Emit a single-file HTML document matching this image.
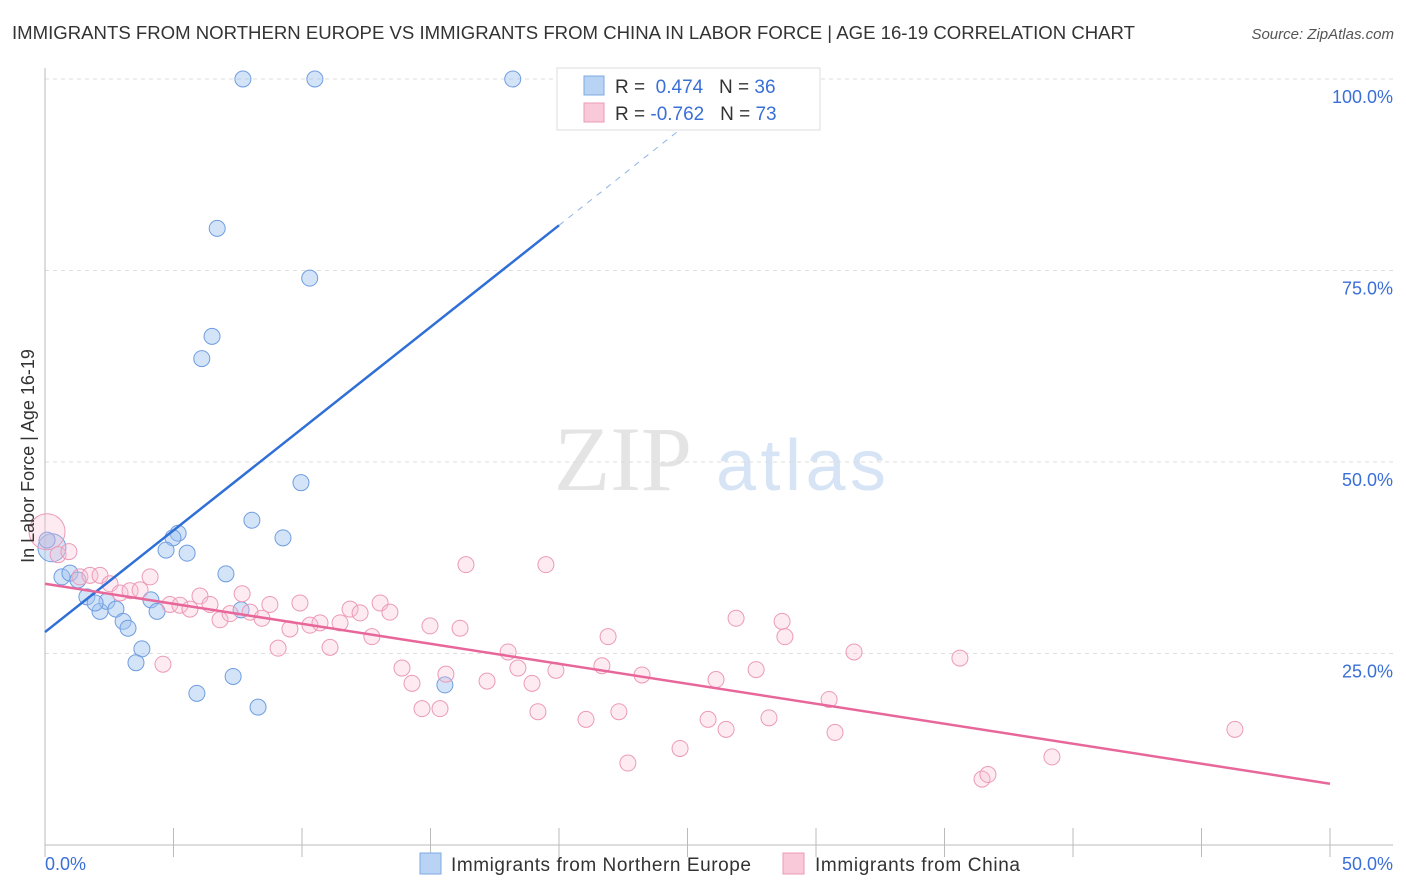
<!DOCTYPE html>
<html><head><meta charset="utf-8"><style>
body{margin:0;background:#fff;font-family:"Liberation Sans",sans-serif;}
svg{display:block}
</style></head><body>
<svg id="chart" width="1406" height="892">
<text x="12" y="39" font-size="18" fill="#333" textLength="1123" lengthAdjust="spacingAndGlyphs">IMMIGRANTS FROM NORTHERN EUROPE VS IMMIGRANTS FROM CHINA IN LABOR FORCE | AGE 16-19 CORRELATION CHART</text>
<text x="1394" y="39" font-size="15" fill="#555" font-style="italic" text-anchor="end">Source: ZipAtlas.com</text>
<text x="692" y="490" font-size="92" fill="#e4e4e4" text-anchor="end" font-family="Liberation Serif,serif">ZIP</text>
<text x="716" y="490" font-size="72" fill="#d6e4f5" textLength="170">atlas</text>
<g id="grid"></g><g id="axes"></g><g id="marks"></g>
<text transform="translate(34,456) rotate(-90)" font-size="18" fill="#333" text-anchor="middle">In Labor Force | Age 16-19</text>
<text x="45" y="870" font-size="18" fill="#3a6fd8">0.0%</text>
<text x="1393" y="870" font-size="18" fill="#3a6fd8" text-anchor="end">50.0%</text>
<g>
<rect x="557" y="68" width="263" height="62" fill="#fff" stroke="#ddd"/>
<rect x="584" y="76" width="20" height="19" fill="#b9d3f5" stroke="#7fa8e0"/>
<rect x="584" y="103" width="20" height="19" fill="#f9c9d9" stroke="#eb9ab6"/>
<text x="615" y="93" font-size="19" fill="#333">R = <tspan fill="#3a6fd8">&#160;0.474</tspan>&#160;&#160;&#160;N = <tspan fill="#3a6fd8">36</tspan></text>
<text x="615" y="120" font-size="19" fill="#333">R = <tspan fill="#3a6fd8">-0.762</tspan>&#160;&#160;&#160;N = <tspan fill="#3a6fd8">73</tspan></text>
</g>
<g>
<rect x="420" y="853" width="21" height="21" fill="#b9d3f5" stroke="#7fa8e0"/>
<text x="451" y="871" font-size="19" fill="#333" textLength="300">Immigrants from Northern Europe</text>
<rect x="783" y="853" width="21" height="21" fill="#f9c9d9" stroke="#eb9ab6"/>
<text x="815" y="871" font-size="19" fill="#333" textLength="205">Immigrants from China</text>
</g>
</svg>
<script>
const blueX=[7.7,10.5,18.2,6.7,10.3,6.5,6.1,9.96,8.05,9.26,5.18,4.98,4.71,5.53,0.27,0.08,0.66,0.97,1.28,1.63,2.14,2.41,2.76,3.04,3.23,4.12,4.36,3.77,3.54,7.04,7.63,7.32,5.91,8.29,15.56,1.95];
const blueY=[100,100,100,80.5,74,66.4,63.5,47.3,42.4,40.1,40.7,40.1,38.5,38.1,38.8,39.8,35,35.5,34.6,32.4,30.5,31.8,30.8,29.2,28.3,32,30.5,25.6,23.8,35.4,30.7,22,19.8,18,20.9,31.6];
const bigBlue=[14,14];
const pinkX=[0.08,0.51,0.93,1.36,1.75,2.14,2.53,2.92,3.31,3.70,4.09,4.59,4.86,5.25,5.64,6.03,6.42,6.81,7.2,7.67,7.98,8.44,8.75,9.07,9.53,9.92,10.31,10.7,11.09,11.48,11.87,12.26,12.72,13.04,13.42,13.89,14.28,14.67,14.98,15.37,15.6,16.15,16.38,17.2,18.02,18.4,18.95,19.18,19.49,19.88,21.05,21.67,21.91,22.33,22.68,23.23,24.71,25.8,26.11,26.5,26.89,27.67,28.17,28.68,28.79,30.51,30.74,31.48,35.6,36.46,36.69,39.18,46.3];
const pinkY=[40.9,37.9,38.3,35,35.2,35.2,34.1,32.9,33.2,33.3,35,23.6,31.4,31.3,30.8,32.5,31.4,29.4,30.2,32.8,30.4,29.6,31.4,25.7,28.2,31.6,28.7,29,25.8,29,30.8,30.3,27.2,31.6,30.4,23.1,21.1,17.8,28.6,17.8,22.3,28.3,36.6,21.4,25.2,23.1,21.1,17.4,36.6,22.8,16.4,23.4,27.2,17.4,10.7,22.2,12.6,16.4,21.6,15.1,29.6,22.9,16.6,29.2,27.2,19,14.7,25.2,24.4,8.6,9.2,11.5,15.1];
const bigPink=[18,14];
const blueLine=[27.8,80.9];
const pinkLine=[34.1,8.0];
const yTicks=[25,50,75,100];
const yTickLabels=["25.0%","50.0%","75.0%","100.0%"];
const NS='http://www.w3.org/2000/svg';
const X=v=>45+v*25.7, Y=v=>845-v*7.66;
function mk(t,a,p){const e=document.createElementNS(NS,t);for(const k in a)e.setAttribute(k,a[k]);document.getElementById(p).appendChild(e);return e;}
yTicks.forEach((t,i)=>{
const g=mk('line',{x1:45,x2:1393,y1:Y(t),y2:Y(t),stroke:'#ddd','stroke-dasharray':'4,4'},'grid');


const l=mk('text',{x:1393,y:Y(t)+24,'font-size':18,fill:'#3a6fd8','text-anchor':'end'},'axes');
l.textContent=yTickLabels[i];


});
const ax=mk('line',{x1:45,x2:45,y1:68,y2:845,stroke:'#bbb'},'axes');


const bx=mk('line',{x1:45,x2:1393,y1:845,y2:845,stroke:'#bbb'},'axes');


for(let i=0;i<=10;i++){const t=mk('line',{x1:X(i*5),x2:X(i*5),y1:828,y2:857,stroke:'#bbb'},'axes');

}
blueX.forEach((x,i)=>{
const c=mk('circle',{cx:X(x),cy:Y(blueY[i]),r:(i===14?bigBlue[0]:8),fill:'rgba(160,196,240,0.45)',stroke:'#6f9de0','stroke-width':1},'marks');

});
pinkX.forEach((x,i)=>{
const c=mk('circle',{cx:X(x),cy:Y(pinkY[i]),r:(i===0?bigPink[0]:8),fill:'rgba(248,190,210,0.3)',stroke:'#ec9ab8','stroke-width':1},'marks');

});
const slope=(blueLine[1]-blueLine[0])/20;
const bl=mk('line',{x1:X(0),y1:Y(blueLine[0]),x2:X(20),y2:Y(blueLine[1]),stroke:'#2f6fd6','stroke-width':2.5},'marks');


const bd=mk('line',{x1:X(20),y1:Y(blueLine[1]),x2:X(20+(100-blueLine[1])/slope),y2:Y(100),stroke:'#8fb3e6','stroke-width':1,'stroke-dasharray':'6,6'},'marks');


const pl=mk('line',{x1:X(0),y1:Y(pinkLine[0]),x2:X(50),y2:Y(pinkLine[1]),stroke:'#e8679a','stroke-width':2.5},'marks');


</script>
</body></html>
